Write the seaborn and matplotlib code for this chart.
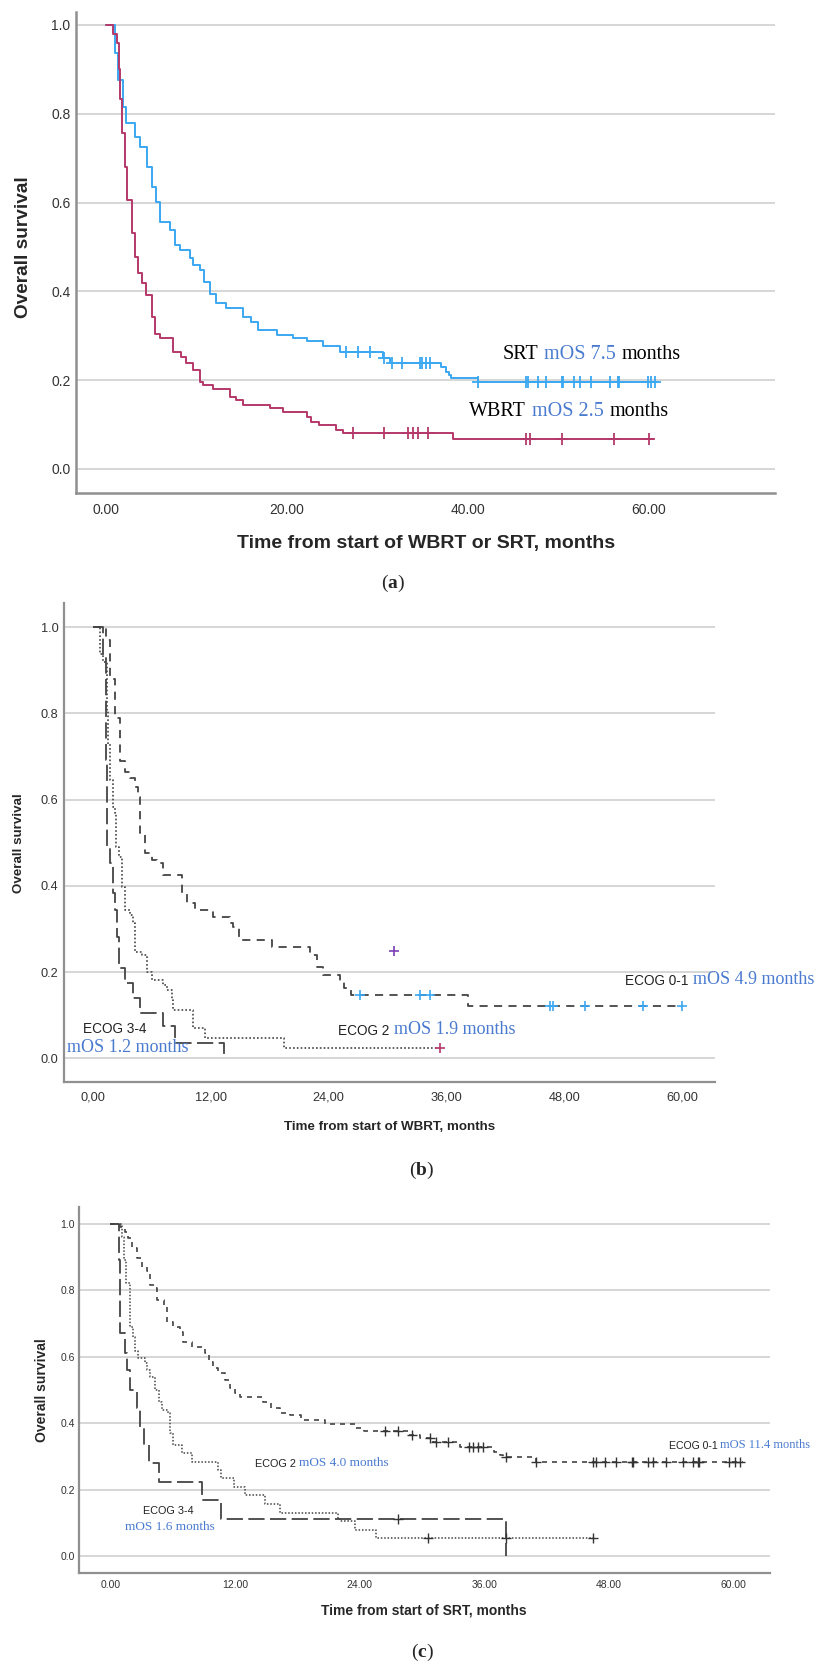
import numpy as np
import matplotlib
matplotlib.use("Agg")
import matplotlib.pyplot as plt
import seaborn as sns

# ---- panel (a): SRT vs WBRT ----
srt_t = [0, 1.0, 1.36, 1.9, 2.2, 3.2, 3.76, 4.5, 5.05, 5.6, 6.0, 7.1, 7.6, 8.2, 9.3, 9.65, 10.4,
         10.9, 11.5, 12.2, 13.3, 15.2, 16.1, 16.8, 18.9, 20.7, 22.2, 24.0, 25.9, 30.6, 31.4,
         37.1, 37.6, 38.0, 38.2, 41.1, 61.0]
srt_s = [1.0, 0.936, 0.876, 0.816, 0.78, 0.748, 0.726, 0.681, 0.636, 0.602, 0.557, 0.538, 0.504,
         0.493, 0.474, 0.46, 0.448, 0.42, 0.395, 0.373, 0.362, 0.343, 0.332, 0.313, 0.302, 0.294,
         0.289, 0.276, 0.264, 0.249, 0.239, 0.230, 0.219, 0.211, 0.204, 0.195, 0.195]
srt_cens = [26.6, 27.9, 29.2, 30.8, 31.6, 32.7, 34.7, 35.0, 35.4, 35.8, 41.1, 46.5, 46.7, 47.8,
            48.7, 50.4, 50.5, 51.8, 52.4, 53.7, 55.7, 56.6, 56.8, 59.9, 60.3, 60.7]

wbrt_t = [0, 0.8, 1.18, 1.44, 1.62, 1.84, 2.1, 2.35, 2.84, 3.2, 3.57, 4.05, 4.42, 5.05, 5.41,
          5.97, 7.44, 8.36, 8.9, 9.65, 10.4, 10.75, 11.86, 13.7, 14.4, 15.2, 18.1, 19.6, 22.2,
          22.7, 23.6, 25.5, 26.2, 38.4, 60.5]
wbrt_s = [1.0, 0.98, 0.959, 0.9, 0.834, 0.756, 0.681, 0.606, 0.531, 0.478, 0.441, 0.418, 0.392,
          0.343, 0.305, 0.294, 0.264, 0.253, 0.238, 0.223, 0.196, 0.189, 0.181, 0.163, 0.155,
          0.144, 0.137, 0.129, 0.118, 0.106, 0.098, 0.087, 0.080, 0.067, 0.067]
wbrt_cens = [27.3, 30.8, 33.4, 34.0, 34.5, 35.6, 46.5, 46.9, 50.4, 56.2, 60.1]

# ---- panel (b): WBRT by ECOG ----
b01_t = [0, 1.32, 1.7, 2.24, 2.75, 3.26, 3.76, 4.27, 4.6, 4.8, 5.29, 5.97, 6.48, 7.15, 9.02,
         9.53, 10.4, 12.2, 13.9, 14.3, 14.9, 18.2, 22.1, 22.8, 23.4, 25.1, 25.5, 26.3, 38.2, 59.9]
b01_s = [1.0, 0.97, 0.88, 0.79, 0.69, 0.665, 0.65, 0.63, 0.607, 0.522, 0.476, 0.46, 0.452,
         0.425, 0.383, 0.36, 0.344, 0.329, 0.313, 0.305, 0.275, 0.259, 0.24, 0.213, 0.194, 0.178,
         0.163, 0.146, 0.122, 0.122]
b01_cens = [27.2, 33.3, 34.3, 46.5, 46.8, 50.05, 56.0, 59.9]

b2_t = [0, 0.71, 1.05, 1.39, 1.56, 1.73, 2.0, 2.24, 2.34, 2.68, 2.92, 3.26, 3.76, 4.1, 4.27,
        4.95, 5.46, 5.97, 7.15, 7.49, 8.0, 8.17, 10.2, 11.4, 19.4, 35.3]
b2_s = [1.0, 0.939, 0.92, 0.808, 0.73, 0.645, 0.584, 0.57, 0.49, 0.468, 0.398, 0.344, 0.333,
        0.313, 0.247, 0.24, 0.201, 0.182, 0.17, 0.159, 0.136, 0.112, 0.07, 0.047, 0.024, 0.024]
b2_cens = [35.3]

b34_t = [0, 1.05, 1.32, 1.46, 1.73, 2.0, 2.24, 2.47, 2.68, 3.26, 4.1, 4.78, 7.15, 8.34, 13.3]
b34_s = [1.0, 0.93, 0.692, 0.49, 0.452, 0.383, 0.344, 0.282, 0.209, 0.174, 0.14, 0.105, 0.074,
         0.035, 0.0]

b_extra_t = [30.6]
b_extra_s = [0.25]

# ---- panel (c): SRT by ECOG ----
c01_t = [0, 0.96, 1.44, 1.76, 2.08, 2.56, 3.04, 3.53, 3.85, 4.33, 4.49, 5.13, 5.45, 6.09, 6.73,
         7.05, 7.85, 9.13, 9.46, 9.94, 10.4, 11.06, 11.54, 12.0, 12.5, 14.7, 15.5, 16.3, 17.3,
         18.4, 20.7, 23.7, 24.4, 28.7, 29.8, 31.1, 33.7, 36.9, 37.5, 37.8, 41.0, 60.9]
c01_s = [1.0, 0.992, 0.977, 0.957, 0.927, 0.897, 0.871, 0.857, 0.816, 0.806, 0.771, 0.756, 0.706,
         0.691, 0.676, 0.645, 0.63, 0.61, 0.585, 0.565, 0.55, 0.53, 0.505, 0.49, 0.48, 0.465,
         0.445, 0.43, 0.425, 0.41, 0.398, 0.385, 0.378, 0.365, 0.357, 0.344, 0.329, 0.314,
         0.304, 0.299, 0.284, 0.284]
c01_cens = [26.4, 27.7, 29.0, 30.8, 31.4, 32.5, 34.5, 34.9, 35.4, 35.9, 38.1, 41.0, 46.5, 46.8,
            47.6, 48.7, 50.2, 50.3, 51.8, 52.2, 53.5, 55.1, 56.1, 56.6, 56.7, 59.6, 60.1, 60.6]

c2_t = [0, 1.12, 1.35, 1.54, 1.92, 2.24, 2.4, 2.72, 3.37, 3.53, 3.85, 4.33, 4.65, 4.97, 5.61,
        5.77, 6.03, 6.89, 7.85, 10.4, 10.7, 11.9, 13.0, 14.9, 16.3, 21.95, 22.1, 23.6, 25.6, 46.5]
c2_s = [1.0, 0.962, 0.891, 0.821, 0.691, 0.661, 0.616, 0.596, 0.58, 0.561, 0.54, 0.50, 0.465,
        0.44, 0.43, 0.37, 0.334, 0.309, 0.284, 0.259, 0.234, 0.209, 0.184, 0.158, 0.13, 0.113,
        0.106, 0.078, 0.053, 0.053]
c2_cens = [30.6, 38.1, 46.5]

c34_t = [0, 0.8, 0.96, 1.44, 1.6, 1.92, 2.56, 2.88, 3.27, 3.69, 4.74, 8.8, 10.67, 38.1]
c34_s = [1.0, 0.891, 0.671, 0.61, 0.559, 0.50, 0.445, 0.389, 0.334, 0.279, 0.224, 0.169, 0.113,
         0.0]
c34_cens = [27.7]

y_ticks = [0.0, 0.2, 0.4, 0.6, 0.8, 1.0]
a_xticks = [0, 20, 40, 60]
bc_xticks = [0, 12, 24, 36, 48, 60]

SRT_BLUE = "#3aa8f2"
WBRT_RED = "#b5386a"
MOS_BLUE = "#4a7bd0"
CURVE_GREY = "#444444"
GRID = "#cccccc"
SPINE = "#909090"

sns.set_style("white")
plt.rcParams["font.family"] = ["Liberation Sans", "DejaVu Sans"]
plt.rcParams["mathtext.fontset"] = "custom"
plt.rcParams["mathtext.rm"] = "Liberation Serif"
plt.rcParams["mathtext.bf"] = "Liberation Serif:bold"


def surv_at(times, surv, pts):
    idx = np.searchsorted(np.asarray(times), np.asarray(pts), side="right") - 1
    return np.asarray(surv)[idx]


def km_curve(ax, times, surv, color, lw, ls="-"):
    sns.lineplot(x=times, y=surv, ax=ax, color=color, linewidth=lw, linestyle=ls,
                 drawstyle="steps-post", estimator=None, legend=False)


def censors(ax, times, surv, pts, color, s=55, lw=1.2):
    sns.scatterplot(x=pts, y=surv_at(times, surv, pts), ax=ax, marker="+", color=color,
                    s=s, linewidth=lw, legend=False, zorder=4)


def label_parts(ax, x, y, parts, gap=0.28):
    """Draw several text pieces side by side, each with its own colour/font."""
    txt, color, fam, size = parts[0]
    prev = ax.text(x, y, txt, color=color, family=fam, fontsize=size, va="bottom", ha="left",
                   clip_on=False)
    for txt, color, fam, size in parts[1:]:
        prev = ax.annotate(txt, xy=(1, 0), xycoords=prev, xytext=(size * gap, 0),
                           textcoords="offset points", color=color, family=fam,
                           fontsize=size, va="bottom", ha="left", annotation_clip=False)


def style_axes(ax, xlim, ylim, xticks, xfmt, tick_size, spine_lw, xpad, ypad):
    ax.set_xlim(*xlim)
    ax.set_ylim(*ylim)
    ax.set_yticks(y_ticks)
    ax.set_yticklabels([f"{v:.1f}" for v in y_ticks])
    ax.set_xticks(xticks)
    ax.set_xticklabels([xfmt(v) for v in xticks])
    ax.yaxis.grid(True, color=GRID, linewidth=1.1)
    ax.xaxis.grid(False)
    ax.set_axisbelow(True)
    for side in ["top", "right"]:
        ax.spines[side].set_visible(False)
    for side in ["left", "bottom"]:
        ax.spines[side].set_color(SPINE)
        ax.spines[side].set_linewidth(spine_lw)
    ax.tick_params(axis="x", length=0, pad=xpad, labelsize=tick_size, labelcolor="#333333")
    ax.tick_params(axis="y", length=0, pad=ypad, labelsize=tick_size, labelcolor="#333333")


fig = plt.figure(figsize=(8.19, 16.66), dpi=100)

# ---------------- (a) ----------------
ax_a = fig.add_axes([0.0928, 0.7041, 0.8535, 0.2887])
km_curve(ax_a, srt_t, srt_s, SRT_BLUE, 1.4)
km_curve(ax_a, wbrt_t, wbrt_s, WBRT_RED, 1.4)
censors(ax_a, srt_t, srt_s, srt_cens, SRT_BLUE, s=70, lw=1.3)
censors(ax_a, wbrt_t, wbrt_s, wbrt_cens, WBRT_RED, s=70, lw=1.3)
style_axes(ax_a, (-3.3, 74), (-0.054, 1.029), a_xticks, lambda v: f"{v:.2f}", 10, 1.8, 7, 4)
ax_a.set_xlabel("Time from start of WBRT or SRT, months", fontsize=14, fontweight="bold",
                va="center")
ax_a.xaxis.set_label_coords(0.5007, -0.106)
ax_a.set_ylabel("Overall survival", fontsize=13.7, fontweight="bold", va="center")
ax_a.yaxis.set_label_coords(-0.0758, 0.511)
label_parts(ax_a, 43.9, 0.236, [("SRT", "black", "Liberation Serif", 14.5),
                                ("mOS 7.5", MOS_BLUE, "Liberation Serif", 14.5),
                                ("months", "black", "Liberation Serif", 14.5)])
label_parts(ax_a, 40.2, 0.109, [("WBRT", "black", "Liberation Serif", 14.5),
                                ("mOS 2.5", MOS_BLUE, "Liberation Serif", 14.5),
                                ("months", "black", "Liberation Serif", 14.5)])

# ---------------- (b) ----------------
ax_b = fig.add_axes([0.0781, 0.3505, 0.7949, 0.2875])
km_curve(ax_b, b01_t, b01_s, CURVE_GREY, 1.3, (0, (4.5, 3.5)))
km_curve(ax_b, b2_t, b2_s, CURVE_GREY, 1.2, (0, (1, 1.3)))
km_curve(ax_b, b34_t, b34_s, CURVE_GREY, 1.3, (0, (9, 3)))
censors(ax_b, b01_t, b01_s, b01_cens, SRT_BLUE)
censors(ax_b, b2_t, b2_s, b2_cens, WBRT_RED)
sns.scatterplot(x=b_extra_t, y=b_extra_s, ax=ax_b, marker="+", color="#7a3fb5", s=55,
                linewidth=1.2, legend=False, zorder=4)
style_axes(ax_b, (-2.95, 63.3), (-0.055, 1.056), bc_xticks,
           lambda v: f"{v:.2f}".replace(".", ","), 9.2, 1.6, 6.5, 4)
ax_b.set_xlabel("Time from start of WBRT, months", fontsize=9.6, fontweight="bold", va="center")
ax_b.xaxis.set_label_coords(0.5008, -0.094)
ax_b.set_ylabel("Overall survival", fontsize=9.6, fontweight="bold", va="center")
ax_b.yaxis.set_label_coords(-0.069, 0.499)
ax_b.text(-1.0, 0.052, "ECOG 3-4", fontsize=9.8, color="#222222", va="bottom", ha="left")
ax_b.text(-2.6, 0.006, "mOS 1.2 months", fontsize=13, color=MOS_BLUE, family="Liberation Serif",
          va="bottom", ha="left")
label_parts(ax_b, 24.9, 0.047, [("ECOG 2", "#222222", "Liberation Sans", 9.8),
                                ("mOS 1.9 months", MOS_BLUE, "Liberation Serif", 13)])
label_parts(ax_b, 54.1, 0.163, [("ECOG 0-1", "#222222", "Liberation Sans", 9.8),
                                ("mOS 4.9 months", MOS_BLUE, "Liberation Serif", 13)])

# ---------------- (c) ----------------
ax_c = fig.add_axes([0.0965, 0.0558, 0.8437, 0.2197])
km_curve(ax_c, c01_t, c01_s, CURVE_GREY, 1.2, (0, (3, 3)))
km_curve(ax_c, c2_t, c2_s, CURVE_GREY, 1.1, (0, (1, 1.2)))
km_curve(ax_c, c34_t, c34_s, CURVE_GREY, 1.3, (0, (9, 3)))
censors(ax_c, c01_t, c01_s, c01_cens, "#333333", s=45, lw=1.0)
censors(ax_c, c2_t, c2_s, c2_cens, "#333333", s=45, lw=1.0)
censors(ax_c, c34_t, c34_s, c34_cens, "#333333", s=45, lw=1.0)
style_axes(ax_c, (-3.0, 63.5), (-0.051, 1.051), bc_xticks, lambda v: f"{v:.2f}", 7.5, 1.6, 5, 3)
ax_c.set_xlabel("Time from start of SRT, months", fontsize=10, fontweight="bold", va="center")
ax_c.xaxis.set_label_coords(0.4993, -0.101)
ax_c.set_ylabel("Overall survival", fontsize=10, fontweight="bold", va="center")
ax_c.yaxis.set_label_coords(-0.0535, 0.5)
label_parts(ax_c, 13.9, 0.262, [("ECOG 2", "#222222", "Liberation Sans", 7.8),
                                ("mOS 4.0 months", MOS_BLUE, "Liberation Serif", 9.5)])
ax_c.text(3.17, 0.122, "ECOG 3-4", fontsize=7.8, color="#222222", va="bottom", ha="left")
ax_c.text(1.44, 0.07, "mOS 1.6 months", fontsize=9.5, color=MOS_BLUE, family="Liberation Serif",
          va="bottom", ha="left")
label_parts(ax_c, 53.8, 0.316, [("ECOG 0-1", "#222222", "Liberation Sans", 7.6),
                                ("mOS 11.4 months", MOS_BLUE, "Liberation Serif", 9.0)],
            gap=0.2)

# panel letters
for letter, (px, py) in {"a": (393, 583), "b": (422, 1170), "c": (422, 1652)}.items():
    fig.text(px / 819, 1 - py / 1666, rf"($\mathbf{{{letter}}}$)", fontsize=14,
             family="Liberation Serif", ha="center", va="center")

fig.savefig("out.png", dpi=100)
